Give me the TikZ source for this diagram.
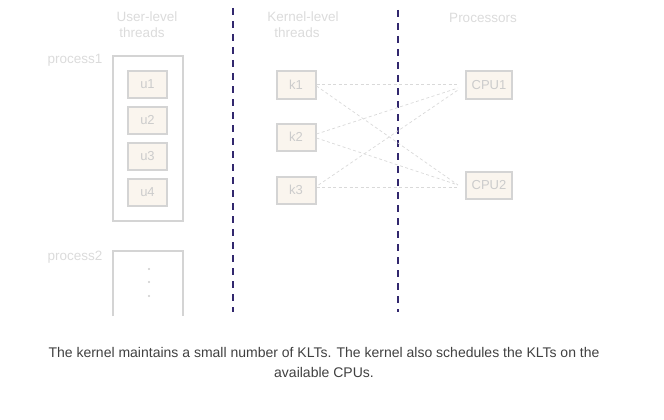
\documentclass[tikz,border=0pt]{standalone}
\usepackage{fontspec}
\setmainfont{Liberation Sans}
\begin{document}
\begin{tikzpicture}[x=1pt,y=-1pt,
  lbl/.style={text=black!14,font=\fontsize{13.5}{15}\selectfont,inner sep=0pt},
  thr/.style={draw=black!17,line width=2pt,fill={rgb,255:red,250;green,245;blue,238},text=black!20,
    font=\fontsize{13}{15}\selectfont,minimum width=39pt,minimum height=27pt,inner sep=0pt},
  cpu/.style={thr,minimum width=46pt},
  proc/.style={draw=black!17,line width=1.5pt},
  sep/.style={draw={rgb,255:red,50;green,40;blue,110},line width=2pt,dash pattern=on 7pt off 6pt},
  link/.style={draw=black!15,line width=0.7pt,dash pattern=on 3pt off 2.5pt},
  dotc/.style={circle,fill=black!20,inner sep=0pt,minimum size=2.2pt}]
\useasboundingbox (0,0) rectangle (664,420);
% headers
\node[lbl] (h1a) at (147,17) {User-level};
\node[lbl] (h1b) at (142,33) {threads};
\node[lbl] (h2a) at (303,17) {Kernel-level};
\node[lbl] (h2b) at (297,33) {threads};
\node[lbl] (h3) at (483,18) {Processors};
\node[lbl] (p1) at (75,60) {process1};
\node[lbl] (p2) at (75,257) {process2};
% separators
\coordinate (s1t) at (233,8); \coordinate (s1b) at (233,312);
\coordinate (s2t) at (398,10); \coordinate (s2b) at (398,312);
\draw[sep] (s1t) -- (s1b);
\draw[sep] (s2t) -- (s2b);
% process boxes
\draw[proc] (113,56) rectangle (183,221);
\coordinate (q1) at (113,316); \coordinate (q2) at (113,251);
\coordinate (q3) at (183,251); \coordinate (q4) at (183,316);
\draw[proc] (q1) -- (q2) -- (q3) -- (q4);
\node[dotc] (d1) at (149,269) {};
\node[dotc] (d2) at (149,282) {};
\node[dotc] (d3) at (149,296) {};
% user threads
\node[thr] (u1) at (147.5,84.5) {u1};
\node[thr] (u2) at (147.5,120.5) {u2};
\node[thr] (u3) at (147.5,156.5) {u3};
\node[thr] (u4) at (147.5,192.5) {u4};
% kernel threads
\node[thr] (k1) at (296,85) {k1};
\node[thr] (k2) at (296,137) {k2};
\node[thr] (k3) at (296,190) {k3};
% cpus
\node[cpu] (c1) at (489,85) {CPU1};
\node[cpu] (c2) at (489,185) {CPU2};
% links
\draw[link] ([yshift=1pt]k1.east) -- ([xshift=-7pt,yshift=1pt]c1.west);
\draw[link] ([yshift=-1pt]k1.east) -- ([xshift=-7pt]c2.west);
\draw[link] ([yshift=3pt]k2.east) -- ([xshift=-7pt,yshift=-3pt]c1.west);
\draw[link] ([yshift=-1pt]k2.east) -- ([xshift=-7pt]c2.west);
\draw[link] ([xshift=2pt,yshift=5pt]k3.east) -- ([xshift=-7pt,yshift=-5pt]c1.west);
\draw[link] ([yshift=3pt]k3.east) -- ([xshift=-7pt,yshift=-2pt]c2.west);
% caption
\node[text=black!75,font=\fontsize{14}{20}\selectfont,align=center,inner sep=0pt] (cap) at (324,362)
 {The kernel maintains a small number of KLTs. The kernel also schedules the KLTs on the\\available CPUs.};
\end{tikzpicture}
\end{document}
